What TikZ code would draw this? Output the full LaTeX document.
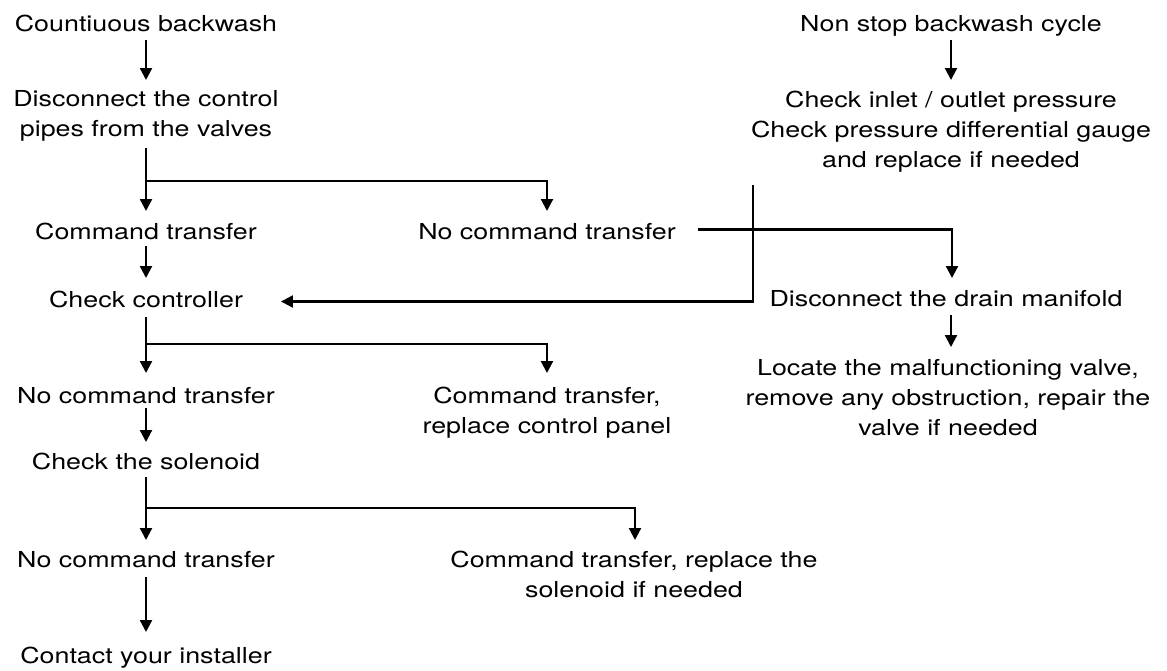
\documentclass[tikz,border=0pt]{standalone}
\usepackage{fontspec}
\setmainfont{TeX Gyre Heros}[FakeStretch=1.22]
\usetikzlibrary{arrows.meta}
\newcommand{\fs}{\fontsize{22pt}{30pt}\selectfont}
\tikzset{
  lbl/.style={inner sep=0pt, outer sep=0pt, font=\fs},
  one/.style={lbl, anchor=base, text height=16pt, text depth=5pt},
  multi/.style={lbl, anchor=north, align=center},
  ln/.style={line width=2.2pt},
  arr/.style={ln, -{Triangle[width=12pt,length=12pt]}}
}
\begin{document}
\begin{tikzpicture}[x=1pt,y=-1pt]
\useasboundingbox (0,0) rectangle (1167,670);
% left column
\node[one] (c1) at (146,31) {Countiuous backwash};
\node[multi] (c2) at (146,90) {Disconnect the control\\pipes from the valves};
\node[one] (c3) at (146,239) {Command transfer};
\node[one] (c4) at (547,239) {No command transfer};
\node[one] (c5) at (146,307) {Check controller};
\node[one] (c6) at (146,403) {No command transfer};
\node[multi] (c7) at (547,387) {Command transfer,\\replace control panel};
\node[one] (c8) at (146,469) {Check the solenoid};
\node[one] (c9) at (146,567) {No command transfer};
\node[multi] (c10) at (634,551) {Command transfer, replace the\\solenoid if needed};
\node[one] (c11) at (146,663) {Contact your installer};
% right column
\node[one] (r1) at (951,31) {Non stop backwash cycle};
\node[multi] (r2) at (951,91) {Check inlet / outlet pressure\\Check pressure differential gauge\\and replace if needed};
\node[one] (r3) at (946,306) {Disconnect the drain manifold};
\node[multi] (r4) at (948,359) {Locate the malfunctioning valve,\\remove any obstruction, repair the\\valve if needed};
% junctions
\coordinate (j1) at (146,181);
\coordinate (j2) at (146,344);
\coordinate (j3) at (146,508);
% connectors
\draw[arr, shorten <=4pt, shorten >=10pt] (c1.south) -- (c2.north);
\draw[arr, shorten <=7pt, shorten >=12pt] (c2.south) -- (c3.north);
\draw[arr, shorten >=12pt] (j1) -| (c4.north);
\draw[arr, shorten <=2pt, shorten >=13pt] (c3.south) -- (c5.north);
\draw[arr, shorten <=5pt, shorten >=14pt] (c5.south) -- (c6.north);
\draw[arr, shorten >=14pt] (j2) -| (c7.north);
\draw[arr, shorten >=11pt] (c6.south) -- (c8.north);
\draw[arr, shorten <=3pt, shorten >=11pt] (c8.south) -- (c9.north);
\draw[arr, shorten >=11pt] (j3) -| ([xshift=1pt]c10.north);
\draw[arr, shorten <=5pt, shorten >=15pt] (c9.south) -- (c11.north);
\draw[arr, shorten <=4pt, shorten >=11pt] (r1.south) -- (r2.north);
\draw[arr, shorten <=13pt, shorten >=38pt] ([xshift=2pt]r2.south west) |- (c5.east);
\draw[arr, shorten <=22pt, shorten >=12pt] ([yshift=4pt]c4.east) -| ([xshift=6pt]r3.north);
\draw[arr, shorten <=4pt, shorten >=12pt] ([xshift=5pt]r3.south) -- ([xshift=3pt]r4.north);
\end{tikzpicture}
\end{document}
